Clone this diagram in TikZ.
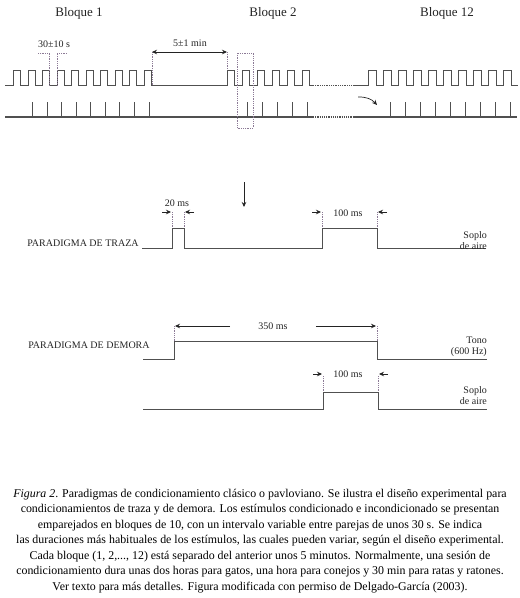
\documentclass[tikz,border=0pt]{standalone}
\usepackage{fontspec}
\setmainfont{Liberation Serif}
\definecolor{sigline}{RGB}{80,80,80}
\definecolor{dotline}{RGB}{140,122,150}
\definecolor{txtgray}{RGB}{35,35,35}
\usetikzlibrary{arrows.meta}

\begin{document}
\begin{tikzpicture}[x=1pt, y=-1pt,
  every node/.style={text=txtgray, inner sep=0pt},
  signal/.style={draw=sigline, line width=0.9pt},
  baseline line/.style={draw=sigline, line width=1.4pt},
  dotmark/.style={draw=dotline, densely dotted, line width=0.8pt},
  tip/.style={-{Stealth[length=5pt,width=4.5pt]}, draw=txtgray, line width=0.7pt},
  blocktext/.style={font=\fontsize{13}{14}\selectfont},
  smalltext/.style={font=\fontsize{10}{11}\selectfont},
  sidetext/.style={font=\fontsize{10}{11}\selectfont, align=right, anchor=east},
]
\useasboundingbox (0,0) rectangle (520,598);

% Block titles
\node[blocktext] (b1) at (79,13) {Bloque 1};
\node[blocktext] (b2) at (273,13) {Bloque 2};
\node[blocktext] (b12) at (447,13) {Bloque 12};

% Top row: CS pulses (blocks 1, 2 and 12)
\draw[signal] (5,85)
  foreach \k in {0,...,9} { -- ({13.5+14.55*\k},85) -- ({13.5+14.55*\k},70) -- ({20.5+14.55*\k},70) -- ({20.5+14.55*\k},85) }
  foreach \k in {0,...,5} { -- ({227+15*\k},85) -- ({227+15*\k},70) -- ({234+15*\k},70) -- ({234+15*\k},85) }
  -- (313,85);
\draw[dotmark, draw=sigline] (313,85) -- (353,85);
\draw[signal] (353,85)
  foreach \k in {0,...,9} { -- ({368+15*\k},85) -- ({368+15*\k},70) -- ({376+15*\k},70) -- ({376+15*\k},85) }
  -- (518,85);

% Bottom row: US ticks
\draw[baseline line] (5,117) -- (313,117);
\draw[dotmark, draw=sigline, line width=1.2pt] (313,117) -- (353,117);
\draw[baseline line] (353,117) -- (517,117);
\foreach \k in {1,...,9} \draw[signal] ({18+14.55*\k},102) -- ({18+14.55*\k},117);
\foreach \k in {1,...,5} \draw[signal] ({232.5+15*\k},102) -- ({232.5+15*\k},117);
\foreach \k in {1,...,9} \draw[signal] ({375+15*\k},102) -- ({375+15*\k},117);

% Interval markers
\node[smalltext] (isi) at (54,44) {30±10 s};
\draw[dotmark] (38,53) -- (49.6,53) -- (49.6,85);
\draw[dotmark] (67,53) -- (57.2,53) -- (57.2,85);
\node[smalltext] (iti) at (190,43) {5±1 min};
\coordinate (itil) at (152,52);
\coordinate (itir) at (227,52);
\draw[dotmark] (itil) -- (152,85);
\draw[dotmark] (itir) -- (227,70);
\draw[tip, {Stealth[length=5pt,width=4.5pt]}-{Stealth[length=5pt,width=4.5pt]}] (itil) -- (itir);
\draw[dotmark] (237,53) rectangle (253,128);

% Jump to block 12
\coordinate (jmpa) at (358,97);
\coordinate (jmpb) at (377,105);
\draw[tip] (jmpa) to[bend left=25] (jmpb);

% Zoom arrow
\coordinate (zma) at (244,182);
\coordinate (zmb) at (244,207);
\draw[tip] (zma) -- (zmb);

% Trace paradigm
\node[smalltext] (traza) at (83,243) {PARADIGMA DE TRAZA};
\draw[signal] (142,248) -- (172,248) -- (172,228) -- (184,228) -- (184,248)
  -- (322,248) -- (322,228) -- (377,228) -- (377,248) -- (486,248);
\node[smalltext] (t20) at (177,203) {20 ms};
\draw[dotmark] (172,212) -- (172,228);
\draw[dotmark] (184,212) -- (184,228);
\draw[tip] (162,212) -- (171,212);
\draw[tip] (194,212) -- (185,212);
\node[smalltext] (t100) at (348,213) {100 ms};
\draw[dotmark] (322,212) -- (322,228);
\draw[dotmark] (377,212) -- (377,228);
\draw[tip] (312,212) -- (321,212);
\draw[tip] (387,212) -- (378,212);
\node[sidetext] (soplo1) at (487,241) {Soplo\\de aire};

% Delay paradigm
\node[smalltext] (demora) at (89,345) {PARADIGMA DE DEMORA};
\draw[signal] (143,359) -- (174,359) -- (174,341) -- (377,341) -- (377,359) -- (487,359);
\node[smalltext] (d350) at (273,326) {350 ms};
\draw[dotmark] (174,326) -- (174,341);
\draw[dotmark] (377,326) -- (377,341);
\draw[tip] (d350.west) ++(-28,0) -- (175,326);
\draw[tip] (d350.east) ++(28,0) -- (376,326);
\node[sidetext] (tono) at (487,347) {Tono\\(600 Hz)};
\draw[signal] (143,409) -- (323,409) -- (323,392) -- (378,392) -- (378,409) -- (487,409);
\node[smalltext] (d100) at (348,374) {100 ms};
\draw[dotmark] (323,376) -- (323,392);
\draw[dotmark] (378,376) -- (378,392);
\draw[tip] (313,374) -- (322,374);
\draw[tip] (388,374) -- (379,374);
\node[sidetext] (soplo2) at (487,396) {Soplo\\de aire};

% Caption
\node[font=\fontsize{11.9}{15.5}\selectfont, align=center, text=black] (cap) at (260,541)
  {\textit{Figura 2}. Paradigmas de condicionamiento clásico o pavloviano. Se ilustra el diseño experimental para\\
   condicionamientos de traza y de demora. Los estímulos condicionado e incondicionado se presentan\\
   emparejados en bloques de 10, con un intervalo variable entre parejas de unos 30 s. Se indica\\
   las duraciones más habituales de los estímulos, las cuales pueden variar, según el diseño experimental.\\
   Cada bloque (1, 2,..., 12) está separado del anterior unos 5 minutos. Normalmente, una sesión de\\
   condicionamiento dura unas dos horas para gatos, una hora para conejos y 30 min para ratas y ratones.\\
   Ver texto para más detalles. Figura modificada con permiso de Delgado-García (2003).};

\end{tikzpicture}
\end{document}
